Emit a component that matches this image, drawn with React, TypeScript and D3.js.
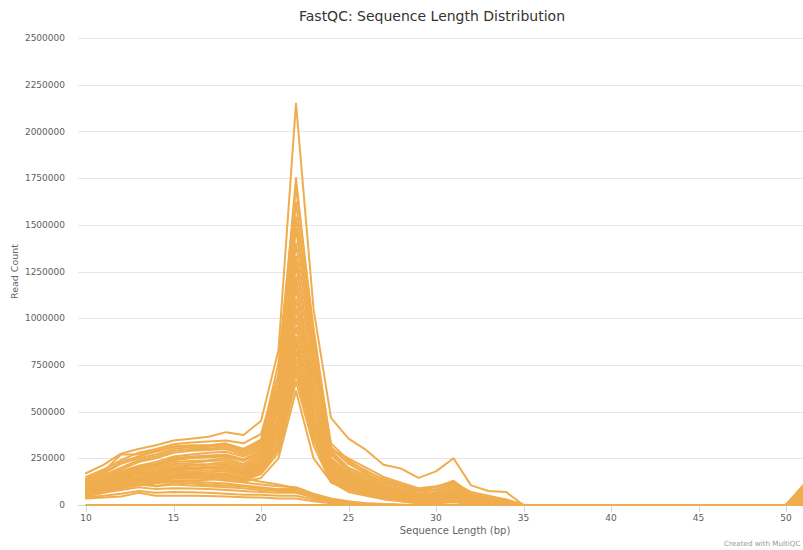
import React from 'react';
import * as d3 from 'd3';

const lengths = [10, 11, 12, 13, 14, 15, 16, 17, 18, 19, 20, 21, 22, 23, 24, 25, 26, 27, 28, 29, 30, 31, 32, 33, 34, 35, 36, 37, 38, 39, 40, 41, 42, 43, 44, 45, 46, 47, 48, 49, 50, 51];

const xTicks = [10, 15, 20, 25, 30, 35, 40, 45, 50];
const yTicks = [0, 250000, 500000, 750000, 1000000, 1250000, 1500000, 1750000, 2000000, 2250000, 2500000];

// peaked samples
const p01 = [170000,215000,275000,300000,320000,345000,355000,365000,390000,375000,450000,830000,2150000,1050000,466000,355000,295000,215000,195000,145000,180000,250000,105000,75000,70000,0, 0,0,0,0,0,0,0,0,0,0,0,0,0,0,0, 40000];
const p02 = [150000,190000,240000,280000,300000,325000,335000,340000,345000,330000,380000,700000,1750000,900000,330000,240000,180000,140000,110000,80000,95000,130000,60000,40000,30000,0, 0,0,0,0,0,0,0,0,0,0,0,0,0,0,0, 108000];
const p03 = [140000,180000,270000,270000,290000,315000,320000,320000,330000,300000,350000,760000,1700000,950000,300000,250000,200000,150000,120000,90000,100000,120000,70000,50000,30000,0, 0,0,0,0,0,0,0,0,0,0,0,0,0,0,0, 95000];
const p04 = [130000,170000,220000,250000,270000,300000,310000,310000,320000,290000,330000,650000,1540000,850000,310000,220000,170000,120000,100000,70000,80000,110000,55000,35000,25000,0, 0,0,0,0,0,0,0,0,0,0,0,0,0,0,0, 85000];
const p05 = [120000,160000,200000,240000,260000,290000,300000,300000,310000,280000,320000,620000,1480000,800000,290000,200000,160000,110000,90000,60000,70000,100000,50000,30000,20000,0, 0,0,0,0,0,0,0,0,0,0,0,0,0,0,0, 75000];
const p06 = [110000,150000,190000,230000,250000,280000,290000,295000,300000,270000,310000,600000,1400000,760000,280000,190000,150000,100000,80000,55000,60000,90000,45000,25000,15000,0, 0,0,0,0,0,0,0,0,0,0,0,0,0,0,0, 70000];
const p07 = [100000,140000,180000,210000,230000,260000,270000,280000,285000,260000,300000,560000,1330000,700000,270000,180000,140000,95000,75000,50000,55000,85000,40000,20000,15000,0, 0,0,0,0,0,0,0,0,0,0,0,0,0,0,0, 60000];
const p08 = [90000,130000,175000,205000,220000,250000,260000,265000,270000,245000,290000,580000,1280000,720000,250000,170000,130000,90000,70000,45000,50000,75000,35000,20000,10000,0, 0,0,0,0,0,0,0,0,0,0,0,0,0,0,0, 55000];
const p09 = [100000,120000,160000,190000,210000,240000,250000,255000,260000,235000,280000,540000,1220000,650000,240000,160000,125000,85000,65000,40000,45000,70000,30000,15000,10000,0, 0,0,0,0,0,0,0,0,0,0,0,0,0,0,0, 50000];
const p10 = [85000,115000,150000,185000,200000,230000,235000,240000,250000,220000,270000,520000,1160000,620000,230000,150000,115000,80000,60000,40000,40000,65000,30000,15000,10000,0, 0,0,0,0,0,0,0,0,0,0,0,0,0,0,0, 42000];
const p11 = [80000,110000,145000,175000,190000,220000,225000,235000,240000,210000,260000,500000,1100000,600000,220000,140000,110000,75000,55000,35000,35000,60000,25000,10000,5000,0, 0,0,0,0,0,0,0,0,0,0,0,0,0,0,0, 35000];
const p12 = [75000,100000,140000,170000,180000,210000,215000,220000,230000,200000,250000,470000,1050000,560000,210000,130000,100000,70000,50000,30000,35000,55000,25000,10000,5000,0, 0,0,0,0,0,0,0,0,0,0,0,0,0,0,0, 28000];
const p13 = [95000,125000,165000,160000,175000,200000,210000,215000,220000,190000,240000,450000,1000000,540000,200000,125000,95000,65000,45000,30000,30000,50000,20000,10000,5000,0, 0,0,0,0,0,0,0,0,0,0,0,0,0,0,0, 25000];
const p14 = [70000,105000,130000,150000,170000,195000,200000,205000,210000,180000,230000,430000,950000,500000,190000,120000,90000,60000,45000,25000,30000,45000,20000,10000,5000,0, 0,0,0,0,0,0,0,0,0,0,0,0,0,0,0, 18000];
const p15 = [65000,95000,125000,140000,160000,185000,190000,195000,200000,170000,220000,400000,900000,470000,180000,110000,85000,55000,40000,25000,25000,40000,15000,5000,5000,0, 0,0,0,0,0,0,0,0,0,0,0,0,0,0,0, 15000];
const p16 = [60000,90000,115000,135000,150000,175000,180000,185000,190000,165000,210000,380000,860000,440000,170000,105000,80000,50000,35000,20000,25000,35000,15000,5000,0,0, 0,0,0,0,0,0,0,0,0,0,0,0,0,0,0, 10000];
const p17 = [75000,85000,110000,180000,145000,165000,170000,175000,180000,160000,200000,360000,820000,420000,160000,100000,75000,45000,30000,20000,20000,30000,10000,5000,0,0, 0,0,0,0,0,0,0,0,0,0,0,0,0,0,0, 8000];
const p18 = [55000,80000,105000,125000,140000,160000,165000,165000,170000,150000,195000,340000,780000,390000,150000,95000,70000,45000,30000,15000,20000,30000,10000,5000,0,0, 0,0,0,0,0,0,0,0,0,0,0,0,0,0,0, 6000];
const p19 = [90000,100000,120000,200000,130000,150000,155000,160000,160000,140000,185000,320000,740000,370000,140000,90000,65000,40000,25000,15000,15000,25000,10000,5000,0,0, 0,0,0,0,0,0,0,0,0,0,0,0,0,0,0, 4000];
const p20 = [50000,75000,100000,120000,125000,145000,150000,150000,155000,135000,175000,300000,700000,350000,130000,85000,60000,35000,25000,15000,15000,25000,10000,5000,0,0, 0,0,0,0,0,0,0,0,0,0,0,0,0,0,0, 3000];
const p21 = [60000,70000,95000,110000,120000,140000,140000,145000,150000,130000,165000,280000,660000,320000,120000,80000,55000,35000,20000,10000,10000,20000,5000,0,0,0, 0,0,0,0,0,0,0,0,0,0,0,0,0,0,0, 2000];
const p22 = [45000,65000,90000,105000,115000,130000,130000,135000,140000,125000,145000,250000,610000,250000,125000,70000,50000,30000,20000,10000,10000,15000,5000,0,0,0, 0,0,0,0,0,0,0,0,0,0,0,0,0,0,0, 1000];
const p23 = [135000,175000,230000,260000,285000,310000,315000,318000,325000,300000,340000,690000,1620000,880000,300000,230000,185000,130000,105000,75000,85000,115000,55000,35000,25000,0, 0,0,0,0,0,0,0,0,0,0,0,0,0,0,0, 100000];
const p24 = [115000,135000,170000,195000,215000,245000,255000,260000,265000,240000,275000,530000,1190000,630000,235000,155000,120000,80000,60000,40000,45000,65000,30000,15000,10000,0, 0,0,0,0,0,0,0,0,0,0,0,0,0,0,0, 65000];
const p25 = [105000,110000,140000,165000,170000,190000,195000,200000,205000,185000,225000,410000,880000,450000,175000,110000,85000,55000,40000,20000,25000,40000,15000,5000,0,0, 0,0,0,0,0,0,0,0,0,0,0,0,0,0,0, 45000];
const p26 = [65000,85000,110000,130000,135000,155000,160000,160000,165000,145000,180000,310000,720000,360000,135000,85000,60000,40000,25000,15000,15000,25000,10000,5000,0,0, 0,0,0,0,0,0,0,0,0,0,0,0,0,0,0, 20000];

// flat samples
const f01 = [100000,120000,140000,150000,140000,150000,145000,140000,130000,120000,110000,100000,95000,60000,35000,20000,10000,5000,3000,0,0,0,0,0,0,0, 0,0,0,0,0,0,0,0,0,0,0,0,0,0,0, 100000];
const f02 = [80000,100000,120000,130000,125000,130000,125000,120000,115000,105000,95000,85000,85000,50000,30000,15000,8000,4000,0,0,0,0,0,0,0,0, 0,0,0,0,0,0,0,0,0,0,0,0,0,0,0, 90000];
const f03 = [60000,80000,100000,110000,100000,110000,105000,100000,95000,90000,80000,75000,75000,45000,25000,12000,5000,2000,0,0,0,0,0,0,0,0, 0,0,0,0,0,0,0,0,0,0,0,0,0,0,0, 80000];
const f04 = [50000,65000,80000,95000,85000,90000,88000,85000,80000,75000,70000,65000,65000,40000,20000,10000,5000,0,0,0,0,0,0,0,0,0, 0,0,0,0,0,0,0,0,0,0,0,0,0,0,0, 30000];
const f05 = [40000,50000,60000,75000,65000,70000,68000,65000,60000,55000,55000,50000,50000,30000,15000,8000,3000,0,0,0,0,0,0,0,0,0, 0,0,0,0,0,0,0,0,0,0,0,0,0,0,0, 12000];
const f06 = [35000,40000,45000,65000,50000,50000,50000,48000,45000,42000,40000,35000,35000,20000,10000,5000,0,0,0,0,0,0,0,0,0,0, 0,0,0,0,0,0,0,0,0,0,0,0,0,0,0, 5000];
const f07 = [120000,140000,170000,120000,160000,175000,170000,160000,150000,140000,125000,110000,90000,55000,30000,15000,5000,0,0,0,0,0,0,0,0,0, 0,0,0,0,0,0,0,0,0,0,0,0,0,0,0, 105000];
const f08 = [70000,85000,95000,140000,100000,120000,115000,110000,105000,100000,90000,80000,70000,40000,20000,10000,4000,0,0,0,0,0,0,0,0,0, 0,0,0,0,0,0,0,0,0,0,0,0,0,0,0, 70000];
// empty sample
const z01 = [0,0,0,0,0,0,0,0,0,0,0,0,0,0,0,0,0,0,0,0,0,0,0,0,0,0, 0,0,0,0,0,0,0,0,0,0,0,0,0,0,0, 0];

const seriesList = [z01, f06, f05, f04, f03, f08, f02, f01, f07, p22, p21, p26, p20, p19, p18, p17, p25, p16, p15, p14, p13, p12, p11, p10, p24, p09, p08, p07, p06, p05, p04, p23, p03, p02, p01];

const FONT = '"DejaVu Sans", "Lucida Grande", Arial, sans-serif';
const LINE_COLOR = '#f0ad4e';

export default function App() {
  const width = 803;
  const height = 550;
  const x = d3.scaleLinear().domain([10, 50]).range([86, 786]);
  const y = d3.scaleLinear().domain([0, 2500000]).range([505, 38]);
  const plotLeft = 78;
  const plotRight = 803;
  const line = d3
    .line<number>()
    .x((_, i) => x(lengths[i]))
    .y((d) => y(d));
  const fmt = d3.format('d');

  return (
    <div style={{ position: 'fixed', left: 0, top: 0, width: 803, height: 550, overflow: 'hidden', background: '#fff' }}>
      <svg width={width} height={height} style={{ display: 'block', fontFamily: FONT }}>
        <defs>
          <clipPath id="plotClip">
            <rect x={0} y={0} width={803} height={550} />
          </clipPath>
        </defs>
        <rect x={0} y={0} width={width} height={height} fill="#fff" />
        {yTicks.map((t) => (
          <g key={'gy' + t}>
            {t > 0 && (
              <line x1={plotLeft} x2={plotRight} y1={Math.round(y(t)) + 0.5} y2={Math.round(y(t)) + 0.5} stroke="#e6e6e6" strokeWidth={1} />
            )}
            <text x={65} y={y(t)} dy="0.35em" textAnchor="end" fontSize={9} fill="#606060">
              {fmt(t)}
            </text>
          </g>
        ))}
        <line x1={plotLeft} x2={plotRight} y1={505.5} y2={505.5} stroke="#ccd6eb" strokeWidth={1} />
        {xTicks.map((t) => (
          <g key={'gx' + t}>
            <line x1={Math.round(x(t)) + 0.5} x2={Math.round(x(t)) + 0.5} y1={505} y2={512} stroke="#ccd6eb" strokeWidth={1} />
            <text x={x(t)} y={521} textAnchor="middle" fontSize={9} fill="#606060">
              {t}
            </text>
          </g>
        ))}
        <g clipPath="url(#plotClip)">
          {seriesList.map((s, i) => (
            <path
              key={'s' + i}
              d={line(s) || ''}
              fill="none"
              stroke={LINE_COLOR}
              strokeWidth={2}
              strokeLinejoin="round"
              strokeLinecap="round"
            />
          ))}
        </g>
        <text x={432} y={21} textAnchor="middle" fontSize={14} fill="#333333">
          FastQC: Sequence Length Distribution
        </text>
        <text
          transform={`translate(18, ${(y(0) + y(2500000)) / 2}) rotate(-90)`}
          textAnchor="middle"
          fontSize={9.5}
          fill="#666666"
        >
          Read Count
        </text>
        <text x={455} y={534} textAnchor="middle" fontSize={10} fill="#666666">
          Sequence Length (bp)
        </text>
        <text x={724} y={546} fontSize={7.2} fill="#999999">
          Created with MultiQC
        </text>
      </svg>
    </div>
  );
}
